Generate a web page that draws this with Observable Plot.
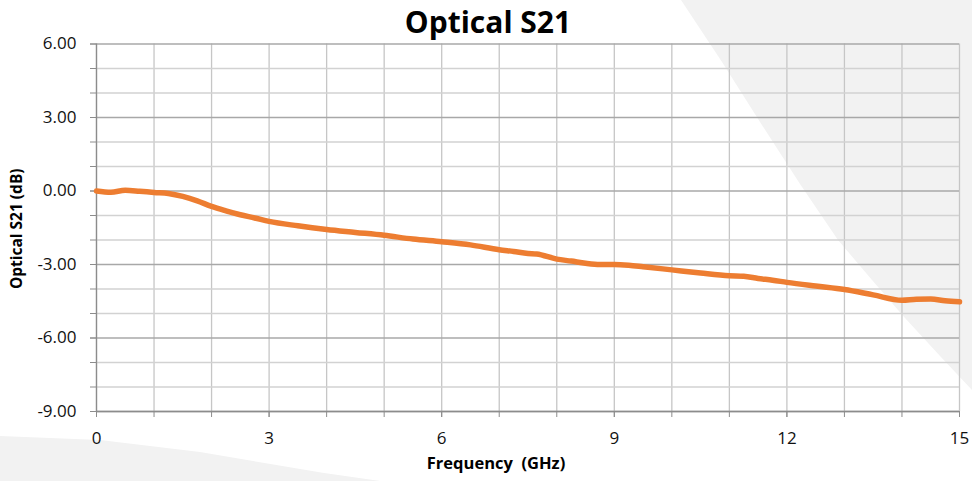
<!DOCTYPE html>
<html>
<head>
<meta charset="utf-8">
<script src="https://cdn.jsdelivr.net/npm/d3@7"></script>
<script src="https://cdn.jsdelivr.net/npm/@observablehq/plot@0.6"></script>
<style>
  html, body { margin: 0; padding: 0; background: #ffffff; }
  #wrap { position: relative; width: 972px; height: 481px; overflow: hidden; font-family: "Open Sans", sans-serif; }
  #bg { position: absolute; left: 0; top: 0; }
  #chart { position: absolute; left: 0; top: 0; }
  #chart svg { white-space: pre; }
</style>
</head>
<body>
<div id="wrap">
  <svg id="bg" width="972" height="481">
    <path d="M681,0 L722,62 L760,122 L800,184 L838,240 L872,280 L905,318 L940,356 L972,390 L972,0 Z" fill="#f2f2f2"/>
    <path d="M0,436 L100,440 L200,452 L324,473 L380,481 L0,481 Z" fill="#f2f2f2"/>
  </svg>
  <div id="chart"></div>
</div>
<script>
// Frequency (GHz) and optical S21 response (dB)
const freq = [0, 0.25, 0.5, 0.75, 1.0, 1.25, 1.5, 1.75, 2.0, 2.25, 2.5, 2.75, 3.0, 3.5, 4.0, 4.5, 5.0, 5.5, 6.0, 6.5, 7.0, 7.25, 7.5, 7.65, 8.0, 8.25, 8.5, 8.75, 9.0, 9.25, 9.5, 10.0, 10.5, 11.0, 11.25, 11.5, 11.75, 12.0, 12.5, 13.0, 13.5, 14.0, 14.25, 14.5, 14.75, 15.0];
const s21 = [0.00, -0.05, 0.03, -0.01, -0.06, -0.10, -0.22, -0.40, -0.63, -0.81, -0.97, -1.10, -1.24, -1.42, -1.57, -1.69, -1.81, -1.96, -2.07, -2.20, -2.40, -2.47, -2.55, -2.57, -2.78, -2.86, -2.95, -3.00, -3.00, -3.03, -3.09, -3.22, -3.35, -3.46, -3.48, -3.57, -3.64, -3.73, -3.88, -4.02, -4.24, -4.46, -4.42, -4.41, -4.48, -4.52];

const xTicks = [0, 3, 6, 9, 12, 15];
const xMinor = [0, 1, 2, 3, 4, 5, 6, 7, 8, 9, 10, 11, 12, 13, 14, 15];
const yTicks = [6, 3, 0, -3, -6, -9];
const yMinor = [5, 4, 2, 1, -1, -2, -4, -5, -7, -8];
const yAllTicks = [6, 5, 4, 3, 2, 1, 0, -1, -2, -3, -4, -5, -6, -7, -8, -9];

const titleText = "Optical S21";
const xLabel = "Frequency  (GHz)";
const yLabel = "Optical S21 (dB)";

const data = freq.map((f, i) => ({f, v: s21[i]}));

const chart = Plot.plot({
  width: 972,
  height: 481,
  marginLeft: 96,
  marginRight: 13,
  marginTop: 43.5,
  marginBottom: 70,
  style: {background: "transparent", fontFamily: "Open Sans, sans-serif", color: "#111"},
  x: {domain: [0, 15]},
  y: {domain: [-9, 6]},
  marks: [
    Plot.gridX(xMinor, {stroke: "#c6c6c6", strokeOpacity: 1, strokeWidth: 1.3}),
    Plot.gridY(yMinor, {stroke: "#d2d2d2", strokeOpacity: 1, strokeWidth: 1.3}),
    Plot.gridY(yTicks, {stroke: "#a8a8a8", strokeOpacity: 1, strokeWidth: 1.3}),
    Plot.axisY(yAllTicks, {tickSize: 6, tickFormat: () => "", stroke: "#8c8c8c", label: null}),
    Plot.axisY(yTicks, {tickSize: 6, tickPadding: 14, tickFormat: d => d.toFixed(2), fontSize: 17, stroke: "#8c8c8c", fill: "#111", label: null}),
    Plot.axisX(xMinor, {tickSize: 6, tickFormat: () => "", stroke: "#8c8c8c", label: null}),
    Plot.axisX(xTicks, {tickSize: 6, tickPadding: 14, tickFormat: d => String(d), fontSize: 17, stroke: "#8c8c8c", fill: "#111", label: null}),
    Plot.ruleX([0], {stroke: "#8c8c8c", strokeWidth: 1.3}),
    Plot.ruleY([-9], {stroke: "#8c8c8c", strokeWidth: 1.3}),
    Plot.line(data, {x: "f", y: "v", stroke: "#ED7D31", strokeWidth: 5.5, strokeLinejoin: "round", strokeLinecap: "round", curve: "monotone-x"}),
    Plot.text([titleText], {text: d => d, frameAnchor: "top", textAnchor: "middle", dx: -40, dy: -21, fontSize: 30, fontWeight: "bold", fill: "#000", lineAnchor: "middle"}),
    Plot.text([xLabel], {text: d => d, frameAnchor: "bottom", textAnchor: "middle", dx: -32, dy: 57, fontSize: 16.5, fontWeight: "bold", fill: "#000"}),
    Plot.text([yLabel], {text: d => d, frameAnchor: "left", textAnchor: "middle", dx: -79, dy: 1, rotate: -90, fontSize: 15.5, fontWeight: "bold", fill: "#000"})
  ]
});
document.getElementById("chart").appendChild(chart);
</script>
</body>
</html>
